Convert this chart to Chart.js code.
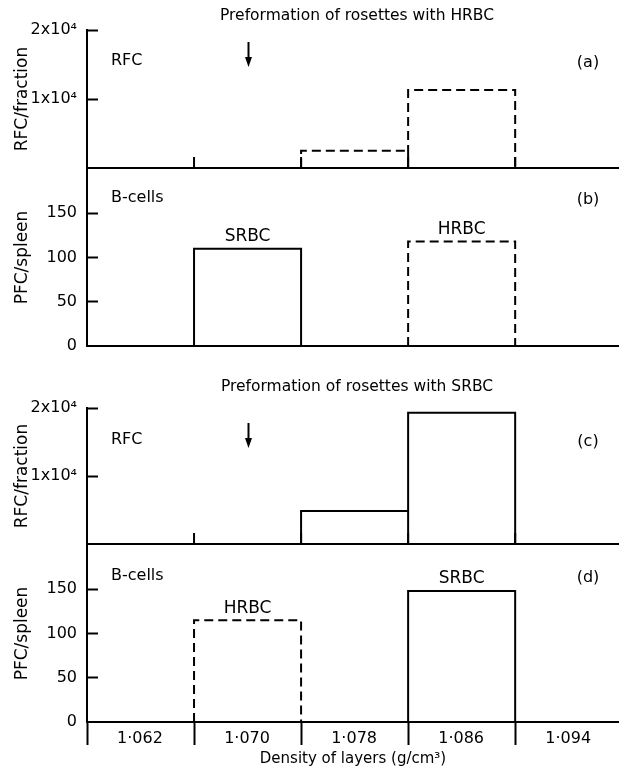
<!DOCTYPE html>
<html>
<head>
<meta charset="utf-8">
<script src="https://cdn.jsdelivr.net/npm/chart.js@4/dist/chart.umd.min.js"></script>
<style>
  html, body { margin: 0; padding: 0; background: #fff; }
  #wrap { position: relative; width: 619px; height: 771px; overflow: hidden; }
  #wrap canvas { position: absolute; left: 0; }
</style>
</head>
<body>
<div id="wrap">
  <canvas id="pa" width="619" height="178" style="top:0px"></canvas>
  <canvas id="pb" width="619" height="196" style="top:160px"></canvas>
  <canvas id="pc" width="619" height="194" style="top:360px"></canvas>
  <canvas id="pd" width="619" height="235" style="top:536px"></canvas>
</div>
<script>
// density fractions (x categories)
const fractions = ['1·062', '1·070', '1·078', '1·086', '1·094'];
const boundaries = [0, 1, 2, 3, 4];

// (a) preformed with HRBC: RFC per fraction
const rfcHrbc = [0, 0, 2500, 11300, 0];
// (b) B-cells, PFC per spleen
const pfcSrbcB = [0, 110, 0, 0, 0];
const pfcHrbcB = [0, 0, 0, 118, 0];
// (c) preformed with SRBC: RFC per fraction
const rfcSrbc = [0, 0, 4850, 19300, 0];
// (d) B-cells, PFC per spleen
const pfcHrbcD = [0, 115, 0, 0, 0];
const pfcSrbcD = [0, 0, 0, 148, 0];

const rfcTicks = [10000, 20000];
const rfcTickLabels = ['1x10⁴', '2x10⁴'];
const pfcTicks = [0, 50, 100, 150];

const FONT = 'DejaVu Sans';
const DASH = [9, 5];

// histogram outline from one value per fraction
function outline(values) {
  const pts = [];
  values.forEach((v, i) => {
    if (!v) return;
    pts.push({x: i, y: 0}, {x: i, y: v}, {x: i + 1, y: v}, {x: i + 1, y: 0}, {x: i + 1, y: null});
  });
  return pts;
}

function series(values, dashed) {
  return {
    data: outline(values),
    borderColor: '#000',
    borderWidth: 2,
    borderDash: dashed ? DASH : [],
    borderJoinStyle: 'miter',
    pointRadius: 0,
    fill: false,
    tension: 0,
    spanGaps: false
  };
}

// text, arrow and separator marks drawn on top
const panelDeco = {
  id: 'panelDeco',
  afterDraw(chart, args, o) {
    const {ctx, chartArea, scales: {x, y}} = chart;
    ctx.save();
    ctx.fillStyle = '#000';
    ctx.strokeStyle = '#000';
    ctx.textBaseline = 'middle';
    if (o.title) {
      ctx.font = '15.5px "' + FONT + '"';
      ctx.textAlign = 'center';
      ctx.fillText(o.title, (chartArea.left + chartArea.right) / 2 + 4, o.titleY);
    }
    ctx.font = '16px "' + FONT + '"';
    ctx.textAlign = 'left';
    ctx.fillText(o.name, 111, o.nameY);
    ctx.textAlign = 'center';
    ctx.fillText(o.tag, 588, o.nameY + 2);
    if (o.arrow) {
      const ax = Math.round(x.getPixelForValue(1.5)) + 0.5;
      ctx.lineWidth = 2;
      ctx.beginPath();
      ctx.moveTo(ax, o.arrowY);
      ctx.lineTo(ax, o.arrowY + 18);
      ctx.stroke();
      ctx.beginPath();
      ctx.moveTo(ax - 3.5, o.arrowY + 15);
      ctx.lineTo(ax + 3.5, o.arrowY + 15);
      ctx.lineTo(ax, o.arrowY + 25);
      ctx.closePath();
      ctx.fill();
    }
    if (o.separators) {
      ctx.lineWidth = 2;
      boundaries.slice(1).forEach(b => {
        const bx = x.getPixelForValue(b);
        ctx.beginPath();
        ctx.moveTo(bx, chartArea.bottom);
        ctx.lineTo(bx, chartArea.bottom - 11);
        ctx.stroke();
      });
    }
    ctx.font = '17px "' + FONT + '"';
    (o.barLabels || []).forEach(l => {
      const i = l.values.findIndex(v => v);
      ctx.textAlign = 'center';
      ctx.fillText(l.text, x.getPixelForValue(i + 0.5), y.getPixelForValue(l.values[i]) - 12);
    });
    ctx.restore();
  }
};

function xAxis(bottom) {
  const ax = {
    type: 'linear', min: 0, max: 4.97,
    afterBuildTicks: s => { s.ticks = boundaries.map(v => ({value: v})); },
    border: {display: true, color: '#000', width: 2},
    grid: {display: bottom, drawOnChartArea: false, drawTicks: bottom, tickLength: 23, tickColor: '#000', tickWidth: 2},
    ticks: {display: bottom},
    afterFit: s => { s.height = 0; s.paddingLeft = 0; s.paddingRight = 0; }
  };
  if (bottom) {
    ax.ticks = {
      display: true, autoSkip: false, maxRotation: 0, labelOffset: 53, padding: -16, color: '#000',
      font: {family: FONT, size: 16},
      callback: (v, i) => fractions[i]
    };
    ax.title = {display: true, text: 'Density of layers (g/cm³)', color: '#000',
      font: {family: FONT, size: 15}, padding: {top: 0, bottom: 3}};
    ax.afterFit = s => { s.height = 49; s.paddingLeft = 0; s.paddingRight = 0; };
  }
  return ax;
}

function yAxis(max, ticks, labels, title) {
  return {
    type: 'linear', min: 0, max: max,
    afterFit: s => { s.width = 87; s.paddingTop = 0; s.paddingBottom = 0; },
    afterBuildTicks: s => { s.ticks = ticks.map(v => ({value: v})); },
    border: {display: true, color: '#000', width: 2},
    grid: {drawOnChartArea: false, drawTicks: true, tickLength: -11, tickWidth: 2,
      tickColor: c => (c.tick && c.tick.value === 0) ? 'rgba(0,0,0,0)' : '#000'},
    ticks: {color: '#000', padding: 21, font: {family: FONT, size: 16},
      callback: (v, i) => labels ? labels[i] : String(v)},
    title: {display: true, text: title, color: '#000', font: {family: FONT, size: 17}, padding: {top: 12}}
  };
}

function panel(id, datasets, yOpts, pad, deco, bottom) {
  return new Chart(document.getElementById(id), {
    type: 'line',
    data: {datasets: datasets},
    options: {
      responsive: false,
      animation: false,
      events: [],
      layout: {padding: {top: pad[0], bottom: pad[1], left: 0, right: 0}},
      plugins: {legend: {display: false}, tooltip: {enabled: false}, panelDeco: deco},
      scales: {x: xAxis(bottom), y: yOpts}
    },
    plugins: [panelDeco]
  });
}

window.addEventListener('DOMContentLoaded', () => {
  panel('pa', [series(rfcHrbc, true)],
    yAxis(20000, rfcTicks, rfcTickLabels, 'RFC/fraction'), [30, 10],
    {title: 'Preformation of rosettes with HRBC', titleY: 16, name: 'RFC', tag: '(a)', nameY: 61, arrow: true, arrowY: 42, separators: true},
    false);
  panel('pb', [series(pfcSrbcB, false), series(pfcHrbcB, true)],
    yAxis(200, pfcTicks, null, 'PFC/spleen'), [9, 10],
    {name: 'B-cells', tag: '(b)', nameY: 38, barLabels: [{values: pfcSrbcB, text: 'SRBC'}, {values: pfcHrbcB, text: 'HRBC'}]},
    false);
  panel('pc', [series(rfcSrbc, false)],
    yAxis(20000, rfcTicks, rfcTickLabels, 'RFC/fraction'), [48, 10],
    {title: 'Preformation of rosettes with SRBC', titleY: 27, name: 'RFC', tag: '(c)', nameY: 80, arrow: true, arrowY: 63, separators: true},
    false);
  panel('pd', [series(pfcHrbcD, true), series(pfcSrbcD, false)],
    yAxis(200, pfcTicks, null, 'PFC/spleen'), [9, 0],
    {name: 'B-cells', tag: '(d)', nameY: 40, barLabels: [{values: pfcHrbcD, text: 'HRBC'}, {values: pfcSrbcD, text: 'SRBC'}]},
    true);
});
</script>
</body>
</html>
